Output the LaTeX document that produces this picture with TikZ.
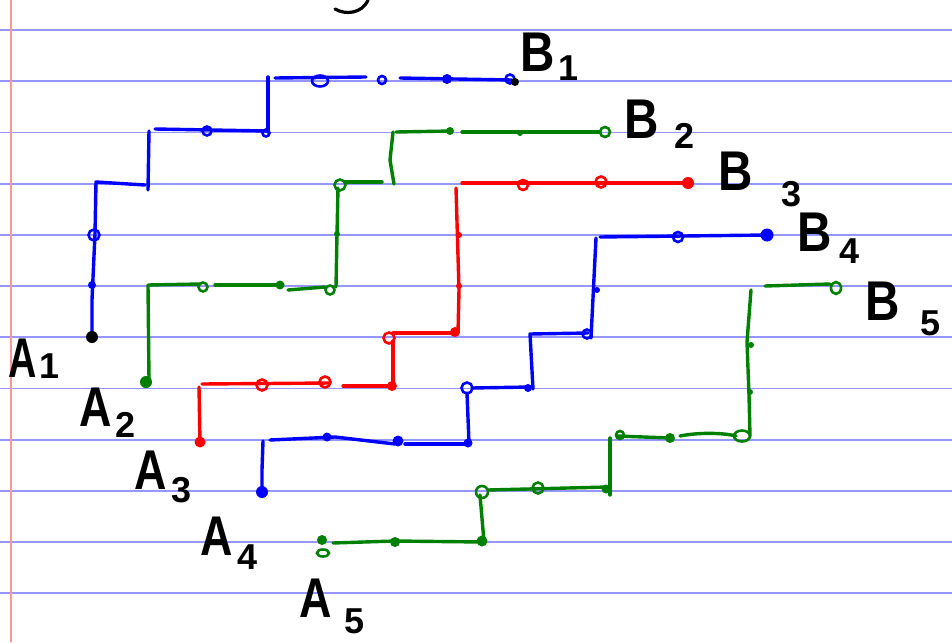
\documentclass[tikz,border=0pt]{standalone}
\usepackage{fontspec}
\setmainfont{Liberation Sans}
\definecolor{ruleblue}{RGB}{150,150,255}
\definecolor{marginred}{RGB}{255,150,150}
\definecolor{pblue}{RGB}{0,0,255}
\definecolor{pgreen}{RGB}{0,128,0}
\definecolor{pred}{RGB}{255,0,0}
\begin{document}
\begin{tikzpicture}[x=1pt,y=-1pt,
  route/.style={line width=3.4pt,line cap=round,line join=round},
  ring/.style={line width=2.6pt},
  bigl/.style={font=\fontsize{56}{56}\selectfont\bfseries,inner sep=0pt},
  subl/.style={font=\fontsize{36}{36}\selectfont\bfseries,inner sep=0pt},
  ink/.style={black,line width=3.2pt,line cap=round}]
\useasboundingbox (0,0) rectangle (952,642);
\fill[white] (0,0) rectangle (952,642);
% ruled paper
\foreach \k in {0,...,11}{
  \draw[ruleblue,line width=1.8pt] (0,{30+51.2*\k}) -- (952,{30+51.2*\k});
}
\draw[marginred,line width=1.8pt] (11,0) -- (11,642);
% fragment at top
\draw[ink] (335,9) .. controls (345,15) and (362,14) .. (368,0);

% endpoints
\coordinate (a1) at (92,337);
\coordinate (a2) at (146,382);
\coordinate (a3) at (200,442);
\coordinate (a4) at (262,492);
\coordinate (a5) at (322,540);
\coordinate (b1) at (512,80);
\coordinate (b2) at (605,132);
\coordinate (b3) at (688,183);
\coordinate (b4) at (767,235);
\coordinate (b5) at (836,288);

% ---------- path 1 (blue) ----------
\begin{scope}[pblue]
\draw[route] (a1) -- (92,300) -- (95,234) -- (96,182) -- (145,185);
\draw[route] (148,190) -- (149,131);
\draw[route] (155,129) -- (267,131);
\draw[route] (268,132) -- (268,77);
\draw[route] (275,78) -- (366,77);
\draw[route] (400,78) -- (b1);
\draw[ring] (94,235) circle (5.5pt);
\fill (92,285) circle (4pt);
\draw[ring] (207,131) circle (4.5pt);
\draw[ring] (266,133) circle (3.5pt);
\draw[ring] (320,81) ellipse (8pt and 5.5pt);
\draw[ring] (382,80) circle (4pt);
\fill (447,79) circle (5pt);
\draw[ring] (510,79) circle (4.5pt);
\end{scope}
\fill[black] (b1) ++(3,2) circle (4pt);
\fill[black] (a1) circle (6pt);

% ---------- path 2 (green) ----------
\begin{scope}[pgreen]
\fill (a2) circle (6pt);
\draw[route] (a2) -- (149,380) -- (148,285) -- (200,284);
\draw[route] (215,285) -- (278,285);
\draw[route] (288,290) -- (325,287);
\draw[ring] (330,290) circle (4.5pt);
\draw[route] (336,287) -- (337,234) -- (338,188);
\draw[ring] (340,185) circle (5.5pt);
\draw[route] (345,182) -- (382,182);
\draw[route] (394,184) -- (390,160) -- (393,132);
\draw[route] (396,132) -- (452,131);
\draw[route] (462,132) -- (600,132);
\draw[ring] (203,287) circle (4.5pt);
\fill (280,285) circle (4.5pt);
\fill (337,234) circle (3pt);
\fill (450,131) circle (4pt);
\fill (520,133) circle (3pt);
\draw[ring] (b2) circle (5pt);
\end{scope}

% ---------- path 3 (red) ----------
\begin{scope}[pred]
\fill (a3) circle (5.5pt);
\draw[route] (a3) -- (199,387);
\draw[route] (202,384) -- (330,383);
\draw[route] (343,386) -- (392,386);
\draw[route] (393,386) -- (393,341);
\draw[ring] (389,338) circle (5.5pt);
\draw[route] (393,333) -- (455,333);
\draw[route] (458,333) -- (459,290) -- (456,188);
\draw[route] (462,183) -- (688,183);
\draw[ring] (262,385) circle (5.5pt);
\draw[ring] (325,382) circle (5.5pt);
\fill (392,386) circle (5pt);
\fill (455,332) circle (5pt);
\fill (459,235) circle (3pt);
\fill (459,286) circle (3pt);
\draw[ring] (523,185) circle (5pt);
\draw[ring] (601,182) circle (5.5pt);
\fill (b3) circle (6pt);
\end{scope}

% ---------- path 4 (blue) ----------
\begin{scope}[pblue]
\fill (a4) circle (6pt);
\draw[route] (a4) -- (262,470) -- (263,441);
\draw[route] (270,440) -- (335,437) -- (395,444);
\draw[route] (405,444) -- (468,444);
\draw[route] (469,443) -- (467,393);
\draw[ring] (467,388) circle (5.5pt);
\draw[route] (472,388) -- (530,387);
\draw[route] (533,389) -- (530,334) -- (588,333);
\draw[route] (591,338) -- (596,238);
\draw[route] (600,237) -- (b4);
\fill (327,437) circle (4.5pt);
\fill (398,441) circle (5.5pt);
\fill (468,443) circle (4.5pt);
\fill (528,388) circle (4pt);
\draw[ring] (587,334) circle (4.5pt);
\fill (597,290) circle (3pt);
\draw[ring] (678,237) circle (5pt);
\fill (b4) circle (6.5pt);
\end{scope}

% ---------- path 5 (green) ----------
\begin{scope}[pgreen]
\fill (a5) circle (5pt);
\draw[ring] (323,553) ellipse (6pt and 3.5pt);
\draw[route] (333,543) -- (395,541) -- (482,542);
\draw[route] (484,542) -- (480,495);
\draw[ring] (482,492) circle (6pt);
\draw[route] (488,490) -- (608,487);
\draw[route] (610,495) -- (610,438);
\draw[route] (617,436) -- (670,438);
\draw[route] (680,436) .. controls (700,432) and (725,433) .. (736,436);
\draw[ring] (742,436) ellipse (8pt and 5.5pt);
\draw[route] (750,436) -- (749,395) -- (747,342) -- (751,290);
\draw[route] (765,286) -- (830,284);
\fill (395,542) circle (5pt);
\fill (482,541) circle (5.5pt);
\draw[ring] (538,488) circle (5.5pt);
\fill (606,489) circle (4.5pt);
\draw[ring] (620,435) circle (4pt);
\fill (670,438) circle (5pt);
\fill (750,392) circle (3pt);
\fill (751,345) circle (3pt);
\draw[ring] (b5) ellipse (5pt and 6pt);
\end{scope}

% ---------- labels ----------
\node[bigl,xscale=0.7] (la1) at (23,358) {A};
\node[subl] (sa1) at (50,366) {1};
\node[bigl,xscale=0.8] (la2) at (96,407) {A};
\node[subl] (sa2) at (126,425) {2};
\node[bigl,xscale=0.8] (la3) at (151,470) {A};
\node[subl] (sa3) at (182,490) {3};
\node[bigl,xscale=0.8] (la4) at (217,536) {A};
\node[subl] (sa4) at (248,557) {4};
\node[bigl,xscale=0.8] (la5) at (316,598) {A};
\node[subl] (sa5) at (355,621) {5};
\node[bigl,xscale=0.85] (lb1) at (538,52) {B};
\node[subl] (sb1) at (569,68) {1};
\node[bigl,xscale=0.85] (lb2) at (642,119) {B};
\node[subl] (sb2) at (684,136) {2};
\node[bigl,xscale=0.85] (lb3) at (736,171) {B};
\node[subl] (sb3) at (791,194) {3};
\node[bigl,xscale=0.85] (lb4) at (815,232) {B};
\node[subl] (sb4) at (849,251) {4};
\node[bigl,xscale=0.85] (lb5) at (883,301) {B};
\node[subl] (sb5) at (930,323) {5};
\end{tikzpicture}
\end{document}
